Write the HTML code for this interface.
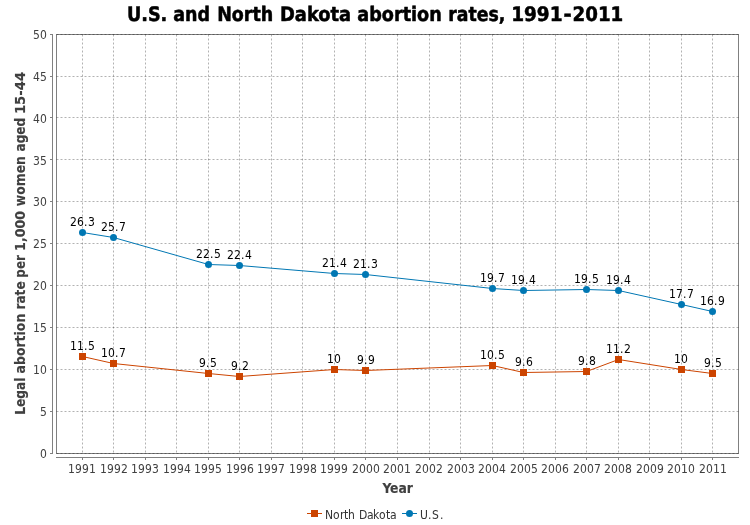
<!DOCTYPE html>
<html lang="en"><head><meta charset="utf-8"><title>U.S. and North Dakota abortion rates, 1991-2011</title>
<style>html,body{margin:0;padding:0;background:#fff;overflow:hidden}svg{display:block}text{font-family:"DejaVu Sans Condensed","DejaVu Sans","Liberation Sans",sans-serif;font-stretch:condensed}.t{will-change:transform}</style></head><body>
<svg width="750" height="525" viewBox="0 0 750 525">
<rect width="750" height="525" fill="#fff"/>
<g class="t">
<text y="21" font-size="20" style="text-rendering:geometricPrecision" font-weight="bold" fill="#000" stroke="#000" stroke-width="0.5" stroke-linejoin="round"><tspan x="126.93" textLength="40.38" lengthAdjust="spacingAndGlyphs">U.S.</tspan> <tspan x="173.15" textLength="36.77" lengthAdjust="spacingAndGlyphs">and</tspan> <tspan x="217.14" textLength="56.08" lengthAdjust="spacingAndGlyphs">North</tspan> <tspan x="280.00" textLength="71.11" lengthAdjust="spacingAndGlyphs">Dakota</tspan> <tspan x="357.24" textLength="84.59" lengthAdjust="spacingAndGlyphs">abortion</tspan> <tspan x="448.35" textLength="57.04" lengthAdjust="spacingAndGlyphs">rates,</tspan> <tspan x="511.17" textLength="51.43" lengthAdjust="spacingAndGlyphs">1991</tspan><tspan x="563.40" textLength="8.17" lengthAdjust="spacingAndGlyphs">-</tspan><tspan x="572.57" textLength="50.67" lengthAdjust="spacingAndGlyphs">2011</tspan></text>
<g stroke="#808080" stroke-width="1" fill="none" shape-rendering="crispEdges">
<rect x="56.5" y="34.5" width="682" height="419"/>
<line x1="52.5" y1="34" x2="52.5" y2="454"/>
<line x1="56" y1="457.5" x2="739" y2="457.5"/>
<line x1="50" y1="453.5" x2="52" y2="453.5"/>
<line x1="50" y1="411.5" x2="52" y2="411.5"/>
<line x1="50" y1="369.5" x2="52" y2="369.5"/>
<line x1="50" y1="327.5" x2="52" y2="327.5"/>
<line x1="50" y1="285.5" x2="52" y2="285.5"/>
<line x1="50" y1="243.5" x2="52" y2="243.5"/>
<line x1="50" y1="201.5" x2="52" y2="201.5"/>
<line x1="50" y1="159.5" x2="52" y2="159.5"/>
<line x1="50" y1="117.5" x2="52" y2="117.5"/>
<line x1="50" y1="76.5" x2="52" y2="76.5"/>
<line x1="50" y1="34.5" x2="52" y2="34.5"/>
<line x1="82.5" y1="458" x2="82.5" y2="460"/>
<line x1="113.5" y1="458" x2="113.5" y2="460"/>
<line x1="145.5" y1="458" x2="145.5" y2="460"/>
<line x1="176.5" y1="458" x2="176.5" y2="460"/>
<line x1="208.5" y1="458" x2="208.5" y2="460"/>
<line x1="239.5" y1="458" x2="239.5" y2="460"/>
<line x1="271.5" y1="458" x2="271.5" y2="460"/>
<line x1="302.5" y1="458" x2="302.5" y2="460"/>
<line x1="334.5" y1="458" x2="334.5" y2="460"/>
<line x1="365.5" y1="458" x2="365.5" y2="460"/>
<line x1="397.5" y1="458" x2="397.5" y2="460"/>
<line x1="429.5" y1="458" x2="429.5" y2="460"/>
<line x1="460.5" y1="458" x2="460.5" y2="460"/>
<line x1="492.5" y1="458" x2="492.5" y2="460"/>
<line x1="523.5" y1="458" x2="523.5" y2="460"/>
<line x1="555.5" y1="458" x2="555.5" y2="460"/>
<line x1="586.5" y1="458" x2="586.5" y2="460"/>
<line x1="618.5" y1="458" x2="618.5" y2="460"/>
<line x1="649.5" y1="458" x2="649.5" y2="460"/>
<line x1="681.5" y1="458" x2="681.5" y2="460"/>
<line x1="712.5" y1="458" x2="712.5" y2="460"/>
</g>
<g stroke="#000" stroke-opacity="0.3" stroke-width="1" stroke-dasharray="2 2" fill="none">
<line x1="82.5" y1="34.5" x2="82.5" y2="453.5"/>
<line x1="113.5" y1="34.5" x2="113.5" y2="453.5"/>
<line x1="145.5" y1="34.5" x2="145.5" y2="453.5"/>
<line x1="176.5" y1="34.5" x2="176.5" y2="453.5"/>
<line x1="208.5" y1="34.5" x2="208.5" y2="453.5"/>
<line x1="239.5" y1="34.5" x2="239.5" y2="453.5"/>
<line x1="271.5" y1="34.5" x2="271.5" y2="453.5"/>
<line x1="302.5" y1="34.5" x2="302.5" y2="453.5"/>
<line x1="334.5" y1="34.5" x2="334.5" y2="453.5"/>
<line x1="365.5" y1="34.5" x2="365.5" y2="453.5"/>
<line x1="397.5" y1="34.5" x2="397.5" y2="453.5"/>
<line x1="429.5" y1="34.5" x2="429.5" y2="453.5"/>
<line x1="460.5" y1="34.5" x2="460.5" y2="453.5"/>
<line x1="492.5" y1="34.5" x2="492.5" y2="453.5"/>
<line x1="523.5" y1="34.5" x2="523.5" y2="453.5"/>
<line x1="555.5" y1="34.5" x2="555.5" y2="453.5"/>
<line x1="586.5" y1="34.5" x2="586.5" y2="453.5"/>
<line x1="618.5" y1="34.5" x2="618.5" y2="453.5"/>
<line x1="649.5" y1="34.5" x2="649.5" y2="453.5"/>
<line x1="681.5" y1="34.5" x2="681.5" y2="453.5"/>
<line x1="712.5" y1="34.5" x2="712.5" y2="453.5"/>
<line x1="56.5" y1="453.5" x2="738.5" y2="453.5"/>
<line x1="56.5" y1="411.5" x2="738.5" y2="411.5"/>
<line x1="56.5" y1="369.5" x2="738.5" y2="369.5"/>
<line x1="56.5" y1="327.5" x2="738.5" y2="327.5"/>
<line x1="56.5" y1="285.5" x2="738.5" y2="285.5"/>
<line x1="56.5" y1="243.5" x2="738.5" y2="243.5"/>
<line x1="56.5" y1="201.5" x2="738.5" y2="201.5"/>
<line x1="56.5" y1="159.5" x2="738.5" y2="159.5"/>
<line x1="56.5" y1="117.5" x2="738.5" y2="117.5"/>
<line x1="56.5" y1="76.5" x2="738.5" y2="76.5"/>
<line x1="56.5" y1="34.5" x2="738.5" y2="34.5"/>
</g>
<g font-size="12" fill="#404040">
<text x="40" y="458">0</text>
<text x="40" y="416">5</text>
<text x="33 40" y="374">10</text>
<text x="33 40" y="332">15</text>
<text x="33 40" y="290">20</text>
<text x="33 40" y="248">25</text>
<text x="33 40" y="206">30</text>
<text x="33 40" y="165">35</text>
<text x="33 40" y="123">40</text>
<text x="33 40" y="81">45</text>
<text x="33 40" y="39">50</text>
</g>
<g font-size="12" fill="#404040">
<text x="68 75 82 89" y="473">1991</text>
<text x="100 107 114 121" y="473">1992</text>
<text x="131 138 145 152" y="473">1993</text>
<text x="163 170 177 184" y="473">1994</text>
<text x="194 201 208 215" y="473">1995</text>
<text x="226 233 240 247" y="473">1996</text>
<text x="257 264 271 278" y="473">1997</text>
<text x="289 296 303 310" y="473">1998</text>
<text x="320 327 334 341" y="473">1999</text>
<text x="352 359 366 373" y="473">2000</text>
<text x="383 390 397 404" y="473">2001</text>
<text x="415 422 429 436" y="473">2002</text>
<text x="447 454 461 468" y="473">2003</text>
<text x="478 485 492 499" y="473">2004</text>
<text x="510 517 524 531" y="473">2005</text>
<text x="541 548 555 562" y="473">2006</text>
<text x="573 580 587 594" y="473">2007</text>
<text x="604 611 618 625" y="473">2008</text>
<text x="636 643 650 657" y="473">2009</text>
<text x="667 674 681 688" y="473">2010</text>
<text x="699 706 713 720" y="473">2011</text>
</g>
<text y="493" font-size="14" font-weight="bold" fill="#404040" stroke="#404040" stroke-width="0.15"><tspan x="382.42" textLength="30.53" lengthAdjust="spacingAndGlyphs">Year</tspan></text>
<text y="0" transform="translate(25,0) rotate(-90)" font-size="14" font-weight="bold" fill="#404040" stroke="#404040" stroke-width="0.15"><tspan x="-414.68" textLength="37.06" lengthAdjust="spacingAndGlyphs">Legal</tspan> <tspan x="-373.42" textLength="59.66" lengthAdjust="spacingAndGlyphs">abortion</tspan> <tspan x="-309.60" textLength="28.21" lengthAdjust="spacingAndGlyphs">rate</tspan> <tspan x="-277.68" textLength="22.58" lengthAdjust="spacingAndGlyphs">per</tspan> <tspan x="-250.90" textLength="39.97" lengthAdjust="spacingAndGlyphs">1,000</tspan> <tspan x="-206.24" textLength="50.14" lengthAdjust="spacingAndGlyphs">women</tspan> <tspan x="-151.51" textLength="33.66" lengthAdjust="spacingAndGlyphs">aged</tspan> <tspan x="-114.11" textLength="42.34" lengthAdjust="spacingAndGlyphs">15-44</tspan></text>
<polyline fill="none" stroke="#0077b3" stroke-width="1" points="82.5,232.5 113.5,237.5 208.5,264.5 239.5,265.5 334.5,273.5 365.5,274.5 492.5,288.5 523.5,290.5 586.5,289.5 618.5,290.5 681.5,304.5 712.5,311.5"/>
<circle cx="82.5" cy="232.5" r="3.5" fill="#0077b3"/>
<circle cx="113.5" cy="237.5" r="3.5" fill="#0077b3"/>
<circle cx="208.5" cy="264.5" r="3.5" fill="#0077b3"/>
<circle cx="239.5" cy="265.5" r="3.5" fill="#0077b3"/>
<circle cx="334.5" cy="273.5" r="3.5" fill="#0077b3"/>
<circle cx="365.5" cy="274.5" r="3.5" fill="#0077b3"/>
<circle cx="492.5" cy="288.5" r="3.5" fill="#0077b3"/>
<circle cx="523.5" cy="290.5" r="3.5" fill="#0077b3"/>
<circle cx="586.5" cy="289.5" r="3.5" fill="#0077b3"/>
<circle cx="618.5" cy="290.5" r="3.5" fill="#0077b3"/>
<circle cx="681.5" cy="304.5" r="3.5" fill="#0077b3"/>
<circle cx="712.5" cy="311.5" r="3.5" fill="#0077b3"/>
<polyline fill="none" stroke="#cc4400" stroke-width="1" points="82.5,356.5 113.5,363.5 208.5,373.5 239.5,376.5 334.5,369.5 365.5,370.5 492.5,365.5 523.5,372.5 586.5,371.5 618.5,359.5 681.5,369.5 712.5,373.5"/>
<rect x="79.0" y="353.0" width="7" height="7" fill="#cc4400"/>
<rect x="110.0" y="360.0" width="7" height="7" fill="#cc4400"/>
<rect x="205.0" y="370.0" width="7" height="7" fill="#cc4400"/>
<rect x="236.0" y="373.0" width="7" height="7" fill="#cc4400"/>
<rect x="331.0" y="366.0" width="7" height="7" fill="#cc4400"/>
<rect x="362.0" y="367.0" width="7" height="7" fill="#cc4400"/>
<rect x="489.0" y="362.0" width="7" height="7" fill="#cc4400"/>
<rect x="520.0" y="369.0" width="7" height="7" fill="#cc4400"/>
<rect x="583.0" y="368.0" width="7" height="7" fill="#cc4400"/>
<rect x="615.0" y="356.0" width="7" height="7" fill="#cc4400"/>
<rect x="678.0" y="366.0" width="7" height="7" fill="#cc4400"/>
<rect x="709.0" y="370.0" width="7" height="7" fill="#cc4400"/>
<g font-size="12" fill="#000">
<text x="70 77 84 88" y="226">26.3</text>
<text x="101 108 115 119" y="231">25.7</text>
<text x="196 203 210 214" y="258">22.5</text>
<text x="227 234 241 245" y="259">22.4</text>
<text x="322 329 336 340" y="267">21.4</text>
<text x="353 360 367 371" y="268">21.3</text>
<text x="480 487 494 498" y="282">19.7</text>
<text x="511 518 525 529" y="284">19.4</text>
<text x="574 581 588 592" y="283">19.5</text>
<text x="606 613 620 624" y="284">19.4</text>
<text x="669 676 683 687" y="298">17.7</text>
<text x="700 707 714 718" y="305">16.9</text>
<text x="70 77 84 88" y="350">11.5</text>
<text x="101 108 115 119" y="357">10.7</text>
<text x="199 206 210" y="367">9.5</text>
<text x="231 238 242" y="370">9.2</text>
<text x="327 334" y="363">10</text>
<text x="357 364 368" y="364">9.9</text>
<text x="480 487 494 498" y="359">10.5</text>
<text x="515 522 526" y="366">9.6</text>
<text x="578 585 589" y="365">9.8</text>
<text x="606 613 620 624" y="353">11.2</text>
<text x="674 681" y="363">10</text>
<text x="704 711 715" y="367">9.5</text>
</g>
<line x1="307" y1="513.5" x2="322" y2="513.5" stroke="#cc4400" stroke-width="1"/>
<rect x="311" y="510" width="7" height="7" fill="#cc4400"/>
<text y="519" font-size="12" fill="#333333"><tspan x="325 333 340 344 348">North</tspan> <tspan x="359 367 373 379 386 390">Dakota</tspan></text>
<line x1="402" y1="513.5" x2="417" y2="513.5" stroke="#0077b3" stroke-width="1"/>
<circle cx="409.5" cy="513.5" r="3.5" fill="#0077b3"/>
<text x="420 428 432 440" y="519" font-size="12" fill="#333333">U.S.</text>
</g>
</svg></body></html>
